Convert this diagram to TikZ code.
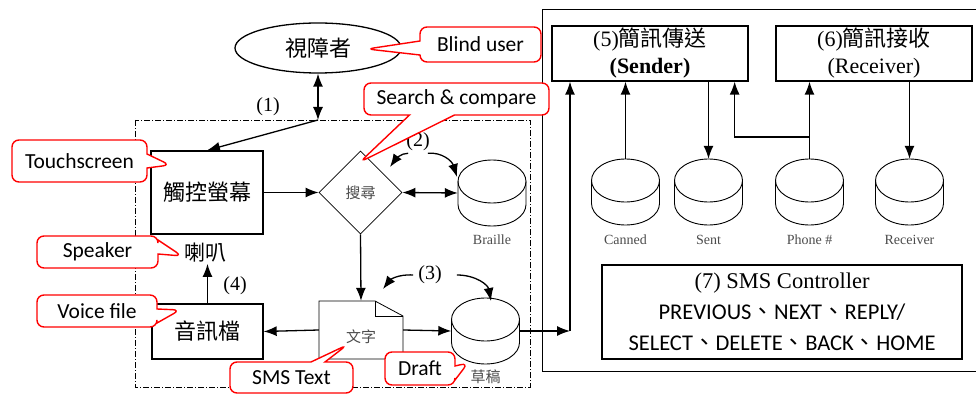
\documentclass[tikz,border=0pt]{standalone}
\usepackage{fontspec}
\setmainfont{Liberation Serif}
\newfontfamily\cjk{Noto Sans CJK TC}
\newfontfamily\calib{Carlito}
\usetikzlibrary{arrows.meta,shapes.geometric,shapes.callouts,calc}

\newcommand\fs[2]{\fontsize{#1}{#2}\selectfont}

% database cylinder: name, centre x, top y
\newcommand\dbcyl[3]{%
  \node[minimum width=68pt, minimum height=66pt, inner sep=0pt] (#1) at (#2,#3+33) {};
  \draw[line width=0.9pt] (#2,#3+21.5) ellipse[x radius=34pt, y radius=21.5pt];
  \draw[line width=0.9pt] (#2-34,#3+21.5) -- (#2-34,#3+44.5)
    arc[start angle=180, end angle=360, x radius=34pt, y radius=21.5pt] -- (#2+34,#3+21.5);
}

\tikzset{
  tip/.tip={Latex[length=13pt,width=10pt]},
  conn/.style={line width=1.3pt, -tip},
  dconn/.style={line width=1.3pt, tip-tip},
  box/.style={draw, line width=1.3pt, inner sep=0pt},
  tag/.style={rectangle callout, draw=red, line width=1.4pt, rounded corners=7pt,
    fill=white, inner sep=0pt, font=\calib\fs{21.5}{25}, callout pointer width=14pt},
  numlbl/.style={font=\fs{20}{24}, inner sep=2pt},
  dblbl/.style={font=\fs{14}{16}, text=black!70},
  cjkbig/.style={font=\cjk\fs{22}{26}},
}

\begin{document}
\begin{tikzpicture}[x=1pt, y=-1pt]
\fill[white] (0,0) rectangle (976,395);
\useasboundingbox (0,0) rectangle (976,395);

% ---------- user side ----------
\node[draw, ellipse, line width=1.3pt, minimum width=166pt, minimum height=50pt,
      inner sep=0pt, cjkbig] (user) at (318,48) {視障者};

\draw[line width=0.7pt, dash pattern=on 6pt off 2pt on 1pt off 2pt] (135,120) rectangle (530,387);
\coordinate (j1) at (318,120);

\node[box, minimum width=112pt, minimum height=83pt, cjkbig] (touch) at (207,192.5) {觸控螢幕};
\node[draw, diamond, aspect=1, minimum width=83pt, minimum height=83pt, inner sep=0pt,
      line width=0.8pt, font=\cjk\fs{15}{18}, text=black!70] (search) at (360.5,192.5) {搜尋};
\dbcyl{braille}{492}{160}
\node[dblbl] at ($(braille.south)+(0,14)$) {Braille};

\draw[dconn] (user.south) -- (j1);
\draw[conn] (j1) -- (touch.north);
\node[numlbl] at (268,107) {(1)};

\draw[conn] (touch.east) -- (search.west);
\draw[dconn] (search.east) -- (braille.west);

\node[numlbl] (n2) at (418,142) {(2)};
\coordinate (c2a) at (390,167);
\coordinate (c2b) at (457,177);
\draw[conn] ($(n2.south west)+(4,0)$) .. controls (401,153) and (395,160) .. (c2a);
\draw[conn] ($(n2.south east)+(-4,0)$) .. controls (442,152) and (452,161) .. (c2b);

% text document
\node[minimum width=84pt, minimum height=58pt, inner sep=0pt] (doc) at (361,330) {};
\draw[line width=0.8pt] (319,301) -- (375,301) -- (403,316) -- (403,359) -- (319,359) -- cycle;
\draw[line width=0.8pt] (375,301) -- (375,316) -- (403,316);
\node[font=\cjk\fs{15}{18}, text=black!70] at (361,337) {文字};

\draw[conn] (search.south) -- (doc.north);

\node[box, minimum width=111pt, minimum height=55pt, cjkbig] (voice) at (207.5,331.5) {音訊檔};
\draw[conn] (doc.west) -- (voice.east);
\node[font=\cjk\fs{21}{24}, inner sep=1pt] (spk) at (205,253) {喇叭};
\draw[conn] (voice.north) -- (voice.north |- spk.south);
\node[numlbl] at (235,286) {(4)};

\dbcyl{draft}{485.5}{298}
\node[font=\cjk\fs{15}{18}, text=black!70] at ($(draft.south)+(0,13)$) {草稿};
\draw[conn] (doc.east) -- (draft.west);

\node[numlbl] (n3) at (430,275) {(3)};
\coordinate (c3a) at (383,289);
\coordinate (c3b) at (491,301);
\draw[conn] ($(n3.west)+(-3,0)$) .. controls (398,274) and (390,280) .. (c3a);
\draw[conn] ($(n3.east)+(13,0)$) .. controls (476,275) and (488,285) .. (c3b);

% ---------- SMS side ----------
\draw[line width=0.9pt] (980,9) -- (542,9) -- (542,371) -- (980,371);

\node[box, minimum width=196pt, minimum height=55pt, align=center, font=\fs{22}{27}]
  (send) at (650,53.5) {(5){\cjk 簡訊傳送}\\{\bfseries (Sender)}};
\node[box, minimum width=196pt, minimum height=55pt, align=center, font=\fs{22}{27}]
  (recv) at (874,53.5) {(6){\cjk 簡訊接收}\\(Receiver)};

\coordinate (corner) at (570,331);
\draw[conn] (draft.east) -- (corner);
\draw[conn] (corner) -- (corner |- send.south);

\dbcyl{canned}{625.5}{159}
\dbcyl{sent}{708.5}{159}
\dbcyl{phone}{809.5}{159}
\dbcyl{rcyl}{909.5}{159}
\node[dblbl] at ($(canned.south)+(0,15)$) {Canned};
\node[dblbl] at ($(sent.south)+(0,15)$) {Sent};
\node[dblbl] at ($(phone.south)+(0,15)$) {Phone \#};
\node[dblbl] at ($(rcyl.south)+(0,15)$) {Receiver};

\draw[conn] (canned.north) -- (canned.north |- send.south);
\draw[conn] (send.south -| sent.north) -- (sent.north);
\draw[conn] (phone.north) -- (phone.north |- recv.south);
\coordinate (br) at (809.5,137);
\draw[conn] (br) -| ($(send.south east)+(-14,0)$);
\draw[conn] (recv.south -| rcyl.north) -- (rcyl.north);

\node[box, minimum width=360pt, minimum height=94pt, align=center, font=\fs{22.5}{31}]
  (ctrl) at (782,312) {(7) SMS Controller\\
  {\calib PREVIOUS{\cjk 、}NEXT{\cjk 、}REPLY/}\\
  {\calib SELECT{\cjk 、}DELETE{\cjk 、}BACK{\cjk 、}HOME}};

% ---------- callouts ----------
\node[tag, minimum width=135pt, minimum height=42pt, callout absolute pointer={(170,165)}]
  (cTouch) at (79.5,161) {Touchscreen};
\node[tag, minimum width=121pt, minimum height=35pt, callout absolute pointer={(367,49)}]
  (cUser) at (480.5,44.5) {Blind user};
\node[tag, minimum width=185pt, minimum height=32pt, callout pointer width=45pt,
      callout absolute pointer={(360,162)}]
  (cSearch) at (456.5,99) {Search \& compare};
\node[tag, minimum width=121pt, minimum height=32pt, callout absolute pointer={(182,256)}]
  (cSpk) at (97.5,252) {Speaker};
\node[tag, minimum width=120pt, minimum height=32pt, callout absolute pointer={(180,310)}]
  (cVoice) at (97,311) {Voice file};
\node[tag, minimum width=123pt, minimum height=31pt, callout absolute pointer={(347,345)}]
  (cText) at (291.5,377.5) {SMS Text};
\node[tag, minimum width=70pt, minimum height=33pt, callout absolute pointer={(468,363)}]
  (cDraft) at (420,368.5) {Draft};
\end{tikzpicture}
\end{document}
